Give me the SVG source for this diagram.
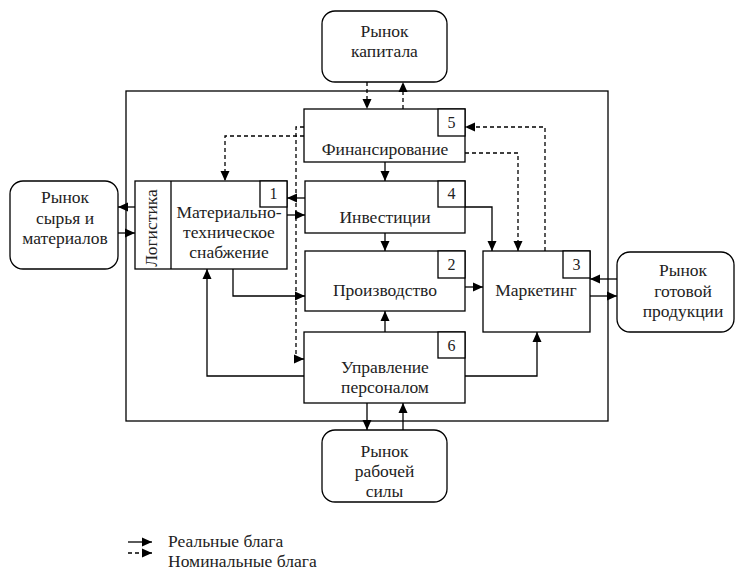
<svg xmlns="http://www.w3.org/2000/svg" width="735" height="574" viewBox="0 0 735 574" font-family="'Liberation Serif', 'DejaVu Serif', 'Noto Serif', Tinos, serif">
<defs>
<marker id="ah" markerUnits="userSpaceOnUse" markerWidth="10" markerHeight="10" viewBox="0 0 10 10" refX="10" refY="5" orient="auto">
<path d="M0,0.5 L10,5 L0,9.5 Z" fill="#000"/>
</marker>
<style>
.b{fill:#fff;stroke:#000;stroke-width:1.3}
.t{font-family:'Liberation Serif','DejaVu Serif','Noto Serif',Tinos,serif;font-size:17.5px;fill:#222;text-anchor:middle}
.n{font-family:'Liberation Serif','DejaVu Serif','Noto Serif',Tinos,serif;font-size:16px;fill:#222;text-anchor:middle}
.l{font-family:'Liberation Serif','DejaVu Serif','Noto Serif',Tinos,serif;font-size:17.5px;fill:#222}
.s{fill:none;stroke:#000;stroke-width:1.3;marker-end:url(#ah)}
.d{fill:none;stroke:#000;stroke-width:1.3;stroke-dasharray:4 3;marker-end:url(#ah)}
</style>
</defs>
<rect x="0" y="0" width="735" height="574" fill="#fff"/>
<g id="enterprise"><rect x="126" y="91" width="482" height="330" fill="none" stroke="#000" stroke-width="1.3"/></g>

<g id="connectors">
<path class="s" d="M385,162 V181"/>
<path class="s" d="M385,233 V251"/>
<path class="s" d="M385,332 V311"/>
<path class="s" d="M305,198 H287"/>
<path class="s" d="M287,215 H305"/>
<path class="s" d="M465,207 H492 V251"/>
<path class="s" d="M465,287 H483"/>
<path class="s" d="M233,269 V296 H305"/>
<path class="s" d="M304,376 H207 V269"/>
<path class="s" d="M465,376 H537 V332"/>
<path class="s" d="M367,403 V430"/>
<path class="s" d="M403,430 V403"/>
<path class="s" d="M135,207 H118"/>
<path class="s" d="M118,233 H135"/>
<path class="s" d="M617,279 H590"/>
<path class="s" d="M590,296 H617"/>
<path class="d" d="M304,127 H296 V359 H304"/>
<path class="d" d="M367,82 V109"/>
<path class="d" d="M403,109 V82"/>
<path class="d" d="M304,136 H225 V181"/>
<path class="d" d="M465,153 H518 V251"/>
<path class="d" d="M545,251 V127 H465"/>
</g>

<g id="capital-market">
<rect class="b" x="322" y="11" width="125" height="71" rx="13"/>
<text class="t" x="384.5" y="37">Рынок</text>
<text class="t" x="384.5" y="57">капитала</text>
</g>

<g id="raw-market">
<rect class="b" x="10" y="181" width="108" height="88" rx="13"/>
<text class="t" x="65" y="203">Рынок</text>
<text class="t" x="65" y="224">сырья и</text>
<text class="t" x="65" y="244">материалов</text>
</g>

<g id="product-market">
<rect class="b" x="617" y="252" width="117" height="80" rx="13"/>
<text class="t" x="683" y="276">Рынок</text>
<text class="t" x="683" y="297">готовой</text>
<text class="t" x="683" y="317">продукции</text>
</g>

<g id="labour-market">
<rect class="b" x="322" y="430" width="125" height="72" rx="13"/>
<text class="t" x="384.5" y="457">Рынок</text>
<text class="t" x="384.5" y="477">рабочей</text>
<text class="t" x="384.5" y="497">силы</text>
</g>

<g id="financing">
<rect class="b" x="304" y="109" width="161" height="53"/>
<rect class="b" x="438" y="109" width="27" height="27"/>
<text class="n" x="451.5" y="128">5</text>
<text class="t" x="385" y="155">Финансирование</text>
</g>

<g id="supply">
<rect class="b" x="135" y="181" width="152" height="88"/>
<line x1="171" y1="181" x2="171" y2="269" stroke="#000" stroke-width="1.3"/>
<rect class="b" x="260" y="181" width="27" height="26"/>
<text class="n" x="273.5" y="199">1</text>
<text class="t" transform="translate(157,228) rotate(-90)" x="0" y="0">Логистика</text>
<text class="t" x="229" y="218">Материально-</text>
<text class="t" x="229" y="238">техническое</text>
<text class="t" x="229" y="258">снабжение</text>
</g>

<g id="investment">
<rect class="b" x="305" y="181" width="160" height="52"/>
<rect class="b" x="438" y="181" width="27" height="26"/>
<text class="n" x="451.5" y="199">4</text>
<text class="t" x="385" y="223">Инвестиции</text>
</g>

<g id="production">
<rect class="b" x="305" y="251" width="160" height="60"/>
<rect class="b" x="438" y="251" width="27" height="27"/>
<text class="n" x="451.5" y="270">2</text>
<text class="t" x="385" y="296">Производство</text>
</g>

<g id="marketing">
<rect class="b" x="483" y="251" width="107" height="81"/>
<rect class="b" x="563" y="251" width="27" height="27"/>
<text class="n" x="576.5" y="270">3</text>
<text class="t" x="536" y="296">Маркетинг</text>
</g>

<g id="personnel">
<rect class="b" x="304" y="332" width="161" height="71"/>
<rect class="b" x="438" y="332" width="27" height="26"/>
<text class="n" x="451.5" y="351">6</text>
<text class="t" x="385" y="373">Управление</text>
<text class="t" x="385" y="393">персоналом</text>
</g>

<g id="legend">
<path class="s" d="M128,542 H152"/>
<path class="d" d="M128,553 H152"/>
<text class="l" x="168" y="547">Реальные блага</text>
<text class="l" x="168" y="567">Номинальные блага</text>
</g>
</svg>
